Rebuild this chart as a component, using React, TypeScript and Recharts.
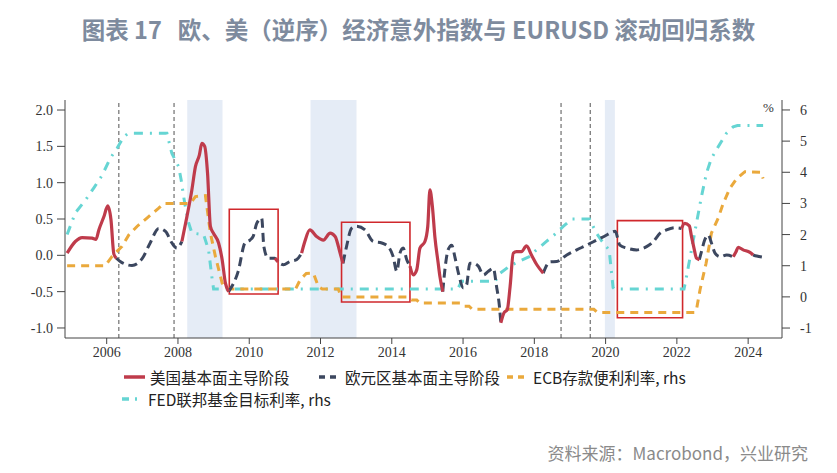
import React from 'react';
import { ComposedChart, Line, XAxis, YAxis, ReferenceArea, ReferenceLine } from 'recharts';

// Rolling regression coefficient (left axis)
const coefX = [
  2004.89, 2005.12, 2005.31, 2005.59, 2005.7, 2005.78, 2005.92, 2006.03, 2006.12, 2006.2,
  2006.27, 2006.38, 2006.71, 2006.99, 2007.22, 2007.46, 2007.65, 2007.83, 2007.97,
  2008.11, 2008.25, 2008.39, 2008.49, 2008.6, 2008.67, 2008.75, 2008.83, 2008.91, 2009.0, 2009.14, 2009.24, 2009.33,
  2009.42, 2009.69, 2009.88, 2010.02, 2010.11, 2010.21, 2010.35, 2010.41, 2010.53,
  2010.72, 2010.81, 2010.96, 2011.14, 2011.33,
  2011.47, 2011.56, 2011.7, 2011.89, 2012.08, 2012.27, 2012.41, 2012.55,
  2012.63, 2012.73, 2012.87, 2013.01, 2013.25, 2013.48, 2013.72, 2013.9, 2014.04, 2014.14, 2014.23, 2014.32, 2014.42,
  2014.51, 2014.6, 2014.7, 2014.79, 2014.93, 2015.01, 2015.07, 2015.14, 2015.21, 2015.3, 2015.35,
  2015.43, 2015.49, 2015.58, 2015.68, 2015.77, 2015.87, 2016.01, 2016.1, 2016.19, 2016.29, 2016.43, 2016.57, 2016.71, 2016.85, 2016.94, 2017.02,
  2017.06, 2017.15, 2017.24, 2017.32, 2017.41, 2017.5, 2017.64, 2017.78, 2017.92, 2018.07,
  2018.25, 2018.44, 2018.63, 2018.91, 2019.19, 2019.47, 2019.75, 2020.03, 2020.12, 2020.27, 2020.4, 2020.59, 2020.87, 2021.15, 2021.34, 2021.53, 2021.71, 2021.95,
  2022.13, 2022.22, 2022.35, 2022.41, 2022.48, 2022.55,
  2022.63, 2022.69, 2022.78, 2022.88, 2022.97, 2023.07, 2023.21, 2023.4,
  2023.58, 2023.66, 2023.72, 2023.86, 2024.05,
  2024.14, 2024.24, 2024.4,
];
const coefY = [
  0.03, 0.19, 0.245, 0.236, 0.22, 0.35, 0.53, 0.68, 0.49, 0.02,
  -0.04, -0.085, -0.14, -0.05, 0.17, 0.37, 0.33, 0.17, 0.1,
  0.19, 0.53, 0.9, 1.22, 1.38, 1.54, 1.5, 1.13, 0.4, 0.3, 0.17, -0.06, -0.38,
  -0.5, -0.22, 0.17, 0.21, 0.26, 0.44, 0.51, 0.12, -0.04,
  -0.04, -0.09, -0.13, -0.085, -0.06,
  0.03, 0.19, 0.35, 0.26, 0.21, 0.305, 0.26, 0.03,
  -0.11, 0.12, 0.37, 0.4, 0.35, 0.19, 0.17, 0.12, -0.02, -0.22, 0.03, 0.1, -0.06,
  -0.15, -0.27, -0.2, 0.1, 0.19, 0.4, 0.9, 0.67, 0.25, -0.1, -0.29,
  -0.5, -0.2, 0.075, 0.14, -0.02, -0.245, -0.45, -0.405, -0.11, -0.11, -0.15, -0.27, -0.22, -0.18, -0.43, -0.7,
  -0.93, -0.79, -0.75, -0.43, 0.03, 0.05, 0.05, 0.13, 0.005, -0.13,
  -0.245, -0.09, -0.085, 0.005, 0.075, 0.14, 0.21, 0.28, 0.305, 0.33, 0.14, 0.1, 0.075, 0.12, 0.19, 0.305, 0.35, 0.38,
  0.37, 0.44, 0.405, 0.26, 0.1, -0.04,
  -0.06, 0.05, 0.21, 0.28, 0.17, 0.03, -0.02, 0.005,
  -0.02, 0.05, 0.11, 0.075, 0.04,
  0.005, -0.01, -0.025,
];
// Dates where the dominant regime flips (starts with US-dominant)
const regimeSwitchX = [2006.27, 2008.11, 2009.42, 2010.72, 2010.81, 2011.47, 2012.63, 2014.51, 2015.43, 2017.06, 2018.25, 2022.13, 2022.63, 2023.58, 2024.14];

// ECB deposit facility rate (rhs)
const ecbX = [2004.89, 2005.96, 2006.15, 2006.43, 2006.62, 2006.85, 2007.13, 2007.46, 2007.6, 2008.35, 2008.49, 2008.77, 2008.91, 2009.05, 2009.24, 2009.35, 2011.3, 2011.43, 2011.6, 2011.8, 2011.94, 2012.05, 2012.5, 2012.58, 2014.45, 2014.55, 2014.7, 2014.78, 2015.92, 2016.02, 2016.17, 2016.26, 2019.67, 2019.77, 2022.5, 2022.55, 2022.65, 2022.82, 2022.97, 2023.16, 2023.3, 2023.49, 2023.68, 2023.91, 2024.35, 2024.42];
const ecbY = [1.0, 1.0, 1.3, 1.62, 1.99, 2.26, 2.53, 2.85, 3.0, 3.0, 3.22, 3.25, 2.05, 1.3, 0.44, 0.25, 0.25, 0.55, 0.75, 0.76, 0.33, 0.25, 0.25, 0.0, 0.0, -0.1, -0.1, -0.2, -0.2, -0.3, -0.3, -0.4, -0.4, -0.5, -0.5, -0.41, 0.23, 1.08, 2.05, 2.53, 3.0, 3.49, 3.8, 4.02, 4.0, 3.8];

// FED funds target rate (rhs)
const fedX = [2004.89, 2005.12, 2005.4, 2005.64, 2005.87, 2006.1, 2006.29, 2006.48, 2006.6, 2007.69, 2007.83, 2008.02, 2008.09, 2008.19, 2008.3, 2008.39, 2008.72, 2008.86, 2008.95, 2009.0, 2015.85, 2015.96, 2016.9, 2017.04, 2017.32, 2017.5, 2017.88, 2018.05, 2018.34, 2018.62, 2018.81, 2019.05, 2019.55, 2019.74, 2019.89, 2020.1, 2020.21, 2020.25, 2022.2, 2022.27, 2022.41, 2022.55, 2022.69, 2022.83, 2022.97, 2023.16, 2023.39, 2023.58, 2023.7, 2024.42];
const fedY = [2.0, 2.7, 3.1, 3.5, 3.9, 4.45, 4.77, 5.14, 5.25, 5.25, 4.6, 4.18, 3.75, 3.0, 2.37, 2.05, 2.0, 1.5, 0.65, 0.25, 0.25, 0.5, 0.5, 0.76, 1.0, 1.1, 1.3, 1.5, 1.78, 2.05, 2.26, 2.5, 2.5, 2.05, 1.8, 1.5, 0.3, 0.25, 0.25, 0.65, 1.51, 2.37, 3.22, 3.97, 4.45, 4.82, 5.25, 5.46, 5.5, 5.5];

// Annotations
const shadeStart = [2008.26, 2011.72, 2019.98];
const shadeEnd = [2009.25, 2013.01, 2020.26];
const eventLineX = [2006.34, 2007.89, 2018.75, 2019.57];
const boxX1 = [2009.44, 2012.59, 2020.33];
const boxX2 = [2010.81, 2014.51, 2022.16];
const boxYLow = [-0.533, -0.643, -0.859];
const boxYHigh = [0.635, 0.456, 0.478];

const yearTicks = [2006, 2008, 2010, 2012, 2014, 2016, 2018, 2020, 2022, 2024];
const leftTicks = [-1, -0.5, 0, 0.5, 1, 1.5, 2];
const rightTicks = [-1, 0, 1, 2, 3, 4, 5, 6];

const seriesNames = ['美国基本面主导阶段', '欧元区基本面主导阶段', 'ECB存款便利利率, rhs', 'FED联邦基金目标利率, rhs'];

const RED = '#bf3b4b';
const NAVY = '#3c475f';
const ORANGE = '#eaa93c';
const TEAL = '#66d5d3';

const regimeAt = (x: number) => (regimeSwitchX.filter((s) => s <= x).length % 2 === 0 ? 'US' : 'EU');
const segRegime = coefX.map((x) => regimeAt(x));
const usData = coefX.map((x, i) => ({
  x,
  v: segRegime[i] === 'US' || (i > 0 && segRegime[i - 1] === 'US') ? coefY[i] : null,
}));
const euData = coefX.map((x, i) => ({
  x,
  v: segRegime[i] === 'EU' || (i > 0 && segRegime[i - 1] === 'EU') ? coefY[i] : null,
}));
const ecbData = ecbX.map((x, i) => ({ x, v: ecbY[i] }));
const fedData = fedX.map((x, i) => ({ x, v: fedY[i] }));

const tickFont = { fontFamily: '"Liberation Serif", serif', fontSize: 14, fill: '#333' };

const LegendItem = ({ left, top, color, dash, label }: any) => (
  <div style={{ position: 'absolute', left, top, display: 'flex', alignItems: 'center', height: 20 }}>
    <svg width={23} height={10} style={{ marginRight: 4 }}>
      <line x1={1} y1={5} x2={22} y2={5} stroke={color} strokeWidth={3.5} strokeDasharray={dash} />
    </svg>
    <span style={{ fontFamily: '"Noto Sans CJK SC", sans-serif', fontSize: 15.5, color: '#222', whiteSpace: 'nowrap' }}>{label}</span>
  </div>
);

export default function App() {
  return (
    <div style={{ position: 'absolute', left: 0, top: 0, width: 837, height: 473, background: '#fff', overflow: 'hidden' }}>
      <div
        style={{
          position: 'absolute', left: 0, top: 12, width: 837, textAlign: 'center',
          fontFamily: '"Noto Sans CJK SC", sans-serif', fontWeight: 700, fontSize: 23.5, color: '#7e8b9e', whiteSpace: 'pre',
        }}
      >
        {'图表 17   欧、美（逆序）经济意外指数与 EURUSD 滚动回归系数'}
      </div>
      <div style={{ position: 'absolute', left: 0, top: 0 }}>
        <ComposedChart width={837} height={473} margin={{ top: 100, right: 0, bottom: 105, left: 0 }}>
          <XAxis
            dataKey="x" type="number" domain={[2004.83, 2024.95]} allowDataOverflow ticks={yearTicks}
            tick={{ ...tickFont, fontSize: 14 }} tickSize={6} tickMargin={3} height={30}
            axisLine={{ stroke: '#444' }} tickLine={{ stroke: '#444' }} xAxisId={0}
          />
          <YAxis
            yAxisId="left" orientation="left" domain={[-1.138, 2.138]} allowDataOverflow ticks={leftTicks}
            tickFormatter={(v: number) => v.toFixed(1)} tick={tickFont} tickSize={8} tickMargin={4} width={65}
            axisLine={{ stroke: '#444' }} tickLine={{ stroke: '#444' }}
          />
          <YAxis
            yAxisId="right" orientation="right" domain={[-1.32, 6.32]} allowDataOverflow ticks={rightTicks}
            tick={tickFont} tickSize={8} tickMargin={10} width={55}
            axisLine={{ stroke: '#444' }} tickLine={{ stroke: '#444' }}
          />
          {shadeStart.map((s, i) => (
            <ReferenceArea key={'sh' + i} yAxisId="left" x1={s} x2={shadeEnd[i]} fill="#e5ecf6" fillOpacity={1} stroke="none" />
          ))}
          {eventLineX.map((x, i) => (
            <ReferenceLine key={'ev' + i} yAxisId="left" x={x} stroke="#7a7a7a" strokeWidth={1.3} strokeDasharray="4 3" />
          ))}
          <Line data={fedData} dataKey="v" yAxisId="right" type="linear" stroke={TEAL} strokeWidth={3} strokeDasharray="9 7 2 7" dot={false} activeDot={false} isAnimationActive={false} name={seriesNames[3]} />
          <Line data={ecbData} dataKey="v" yAxisId="right" type="linear" stroke={ORANGE} strokeWidth={3} strokeDasharray="8 6" dot={false} activeDot={false} isAnimationActive={false} name={seriesNames[2]} />
          <Line data={euData} dataKey="v" yAxisId="left" type="monotone" stroke={NAVY} strokeWidth={3} strokeDasharray="9 5" dot={false} activeDot={false} isAnimationActive={false} name={seriesNames[1]} />
          <Line data={usData} dataKey="v" yAxisId="left" type="monotone" stroke={RED} strokeWidth={3.2} dot={false} activeDot={false} isAnimationActive={false} name={seriesNames[0]} />
          {boxX1.map((x, i) => (
            <ReferenceArea key={'bx' + i} yAxisId="left" x1={x} x2={boxX2[i]} y1={boxYLow[i]} y2={boxYHigh[i]} fill="none" fillOpacity={0} stroke="#d0282c" strokeWidth={1.6} />
          ))}
        </ComposedChart>
      </div>
      <div style={{ position: 'absolute', left: 763, top: 100, fontFamily: '"Liberation Serif", serif', fontSize: 13, color: '#333' }}>%</div>
      <LegendItem left={123} top={367} color={RED} dash={undefined} label={seriesNames[0]} />
      <LegendItem left={318} top={367} color={NAVY} dash="6 5" label={seriesNames[1]} />
      <LegendItem left={506} top={367} color={ORANGE} dash="6 5" label={seriesNames[2]} />
      <LegendItem left={121} top={389} color={TEAL} dash="7 6 2 6" label={seriesNames[3]} />
      <div
        style={{
          position: 'absolute', right: 29, top: 440, fontFamily: '"Noto Sans CJK SC", sans-serif', fontSize: 17, color: '#8a8a8a', whiteSpace: 'nowrap',
        }}
      >
        资料来源：Macrobond，兴业研究
      </div>
    </div>
  );
}
